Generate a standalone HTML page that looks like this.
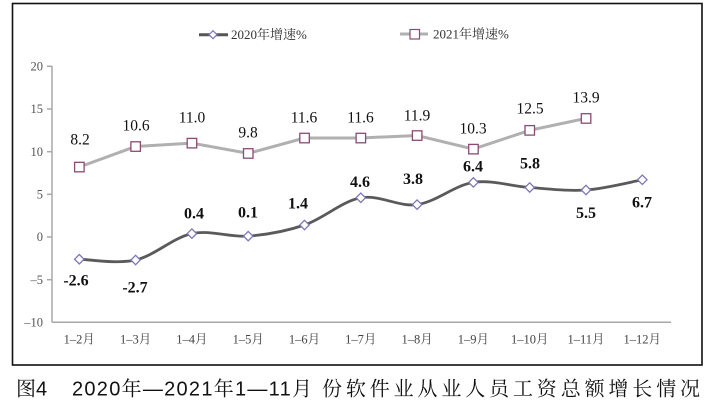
<!DOCTYPE html>
<html><head><meta charset="utf-8"><style>
html,body{margin:0;padding:0;background:#fff;}
svg{display:block;}
</style></head><body>
<svg width="717" height="404" viewBox="0 0 717 404" xmlns="http://www.w3.org/2000/svg">
<rect x="0" y="0" width="717" height="404" fill="#fff"/>
<rect x="12.5" y="3.5" width="689.5" height="361.5" fill="none" stroke="#111" stroke-width="1.6"/>

<!-- axes -->
<g stroke="#a8a8a8" stroke-width="1.5" fill="none">
<line x1="52" y1="66" x2="52" y2="322.3"/>
<line x1="52" y1="322.3" x2="671" y2="322.3"/>
<line x1="47" y1="66.3" x2="52" y2="66.3"/>
<line x1="47" y1="109" x2="52" y2="109"/>
<line x1="47" y1="151.7" x2="52" y2="151.7"/>
<line x1="47" y1="194.3" x2="52" y2="194.3"/>
<line x1="47" y1="237" x2="52" y2="237"/>
<line x1="47" y1="279.7" x2="52" y2="279.7"/>
</g>
<g font-family="'Liberation Serif', serif" font-size="12.5" fill="#555" text-anchor="end">
<text x="43" y="70.5">20</text>
<text x="43" y="113.2">15</text>
<text x="43" y="155.9">10</text>
<text x="43" y="198.5">5</text>
<text x="43" y="241.2">0</text>
<text x="43" y="283.9">–5</text>
<text x="43" y="326.5">–10</text>
</g>
<g font-family="'Liberation Serif', 'Noto Serif CJK SC', serif" font-size="12.5" fill="#444" text-anchor="middle">
<text x="79.3" y="343.5">1–2月</text>
<text x="135.6" y="343.5">1–3月</text>
<text x="191.9" y="343.5">1–4月</text>
<text x="248.2" y="343.5">1–5月</text>
<text x="304.5" y="343.5">1–6月</text>
<text x="360.8" y="343.5">1–7月</text>
<text x="417.1" y="343.5">1–8月</text>
<text x="473.4" y="343.5">1–9月</text>
<text x="529.7" y="343.5">1–10月</text>
<text x="586" y="343.5">1–11月</text>
<text x="642.3" y="343.5">1–12月</text>
</g>

<!-- legend -->
<line x1="199" y1="34.7" x2="228" y2="34.7" stroke="#555" stroke-width="3"/>
<path d="M213,30.7 L217,34.7 L213,38.7 L209,34.7 Z" fill="#fff" stroke="#7d77b5" stroke-width="1.2"/>
<text x="231" y="39.2" font-family="'Liberation Serif', 'Noto Serif CJK SC', serif" font-size="13" fill="#333">2020年增速%</text>
<line x1="400" y1="34" x2="428" y2="34" stroke="#b0b0b0" stroke-width="3"/>
<rect x="410" y="29.5" width="9.5" height="9.5" fill="#fff" stroke="#8a4a75" stroke-width="1.2"/>
<text x="433" y="38.7" font-family="'Liberation Serif', 'Noto Serif CJK SC', serif" font-size="13" fill="#333">2021年增速%</text>

<!-- 2021 series -->
<polyline points="79.3,167 135.6,146.5 191.9,143.1 248.2,153.4 304.5,138 360.8,138 417.1,135.5 473.4,149.1 529.7,130.3 586,118.4" fill="none" stroke="#b0b0b0" stroke-width="3"/>
<g fill="#fff" stroke="#8a4a75" stroke-width="1.3">
<rect x="74.6" y="162.3" width="9.5" height="9.5"/>
<rect x="130.9" y="141.8" width="9.5" height="9.5"/>
<rect x="187.2" y="138.4" width="9.5" height="9.5"/>
<rect x="243.5" y="148.7" width="9.5" height="9.5"/>
<rect x="299.8" y="133.3" width="9.5" height="9.5"/>
<rect x="356.1" y="133.3" width="9.5" height="9.5"/>
<rect x="412.4" y="130.8" width="9.5" height="9.5"/>
<rect x="468.7" y="144.4" width="9.5" height="9.5"/>
<rect x="525" y="125.6" width="9.5" height="9.5"/>
<rect x="581.3" y="113.7" width="9.5" height="9.5"/>
</g>
<g font-family="'Liberation Serif', serif" font-size="15.5" fill="#111" text-anchor="middle">
<text x="80" y="144.5">8.2</text>
<text x="136" y="130.5">10.6</text>
<text x="192" y="122.5">11.0</text>
<text x="248" y="137.5">9.8</text>
<text x="304" y="122.5">11.6</text>
<text x="360.5" y="122.5">11.6</text>
<text x="417" y="120.5">11.9</text>
<text x="473" y="133.5">10.3</text>
<text x="530" y="113.5">12.5</text>
<text x="586" y="102.5">13.9</text>
</g>

<!-- 2020 series -->
<path d="M79.3,259.2 C88.68,259.33 116.83,264.27 135.6,260.0 C154.37,255.73 173.13,237.58 191.9,233.6 C210.67,229.62 229.43,237.53 248.2,236.1 C266.97,234.67 285.73,231.38 304.5,225.0 C323.27,218.62 342.03,201.2 360.8,197.8 C379.57,194.4 398.33,207.17 417.1,204.6 C435.87,202.03 454.63,185.25 473.4,182.4 C492.17,179.55 510.93,186.23 529.7,187.5 C548.47,188.77 567.23,191.28 586.0,190.0 C604.77,188.72 632.92,181.5 642.3,179.8" fill="none" stroke="#5a5a5a" stroke-width="2.8"/>
<g fill="#fff" stroke="#7d77b5" stroke-width="1.3">
<path d="M79.3,254.5 L84,259.2 L79.3,263.9 L74.6,259.2 Z"/>
<path d="M135.6,255.3 L140.3,260 L135.6,264.7 L130.9,260 Z"/>
<path d="M191.9,228.9 L196.6,233.6 L191.9,238.3 L187.2,233.6 Z"/>
<path d="M248.2,231.4 L252.9,236.1 L248.2,240.8 L243.5,236.1 Z"/>
<path d="M304.5,220.3 L309.2,225 L304.5,229.7 L299.8,225 Z"/>
<path d="M360.8,193.1 L365.5,197.8 L360.8,202.5 L356.1,197.8 Z"/>
<path d="M417.1,199.9 L421.8,204.6 L417.1,209.3 L412.4,204.6 Z"/>
<path d="M473.4,177.7 L478.1,182.4 L473.4,187.1 L468.7,182.4 Z"/>
<path d="M529.7,182.8 L534.4,187.5 L529.7,192.2 L525,187.5 Z"/>
<path d="M586,185.3 L590.7,190 L586,194.7 L581.3,190 Z"/>
<path d="M642.3,175.1 L647,179.8 L642.3,184.5 L637.6,179.8 Z"/>
</g>
<g font-family="'Liberation Serif', serif" font-size="16" font-weight="bold" fill="#111" text-anchor="middle">
<text x="76" y="285.5">-2.6</text>
<text x="135" y="292.5">-2.7</text>
<text x="194" y="218.5">0.4</text>
<text x="248" y="217.5">0.1</text>
<text x="298" y="208.5">1.4</text>
<text x="360" y="187">4.6</text>
<text x="413" y="184">3.8</text>
<text x="473" y="171.5">6.4</text>
<text x="530" y="168.5">5.8</text>
<text x="586" y="218">5.5</text>
<text x="642" y="207.5">6.7</text>
</g>

<!-- caption -->
<g font-family="'Liberation Sans', 'Noto Serif CJK SC', sans-serif" font-size="20" fill="#111">
<text x="16" y="395.5">图4</text>
<text x="72" y="395.5" textLength="240" lengthAdjust="spacing">2020年—2021年1—11月</text>
<text x="322 345.9 369.7 393.6 417.5 441.4 465.2 489.1 513 536.8 560.7 584.6 608.4 632.3 656.2 680" y="395.5">份软件业从业人员工资总额增长情况</text>
</g>
</svg>
</body></html>
